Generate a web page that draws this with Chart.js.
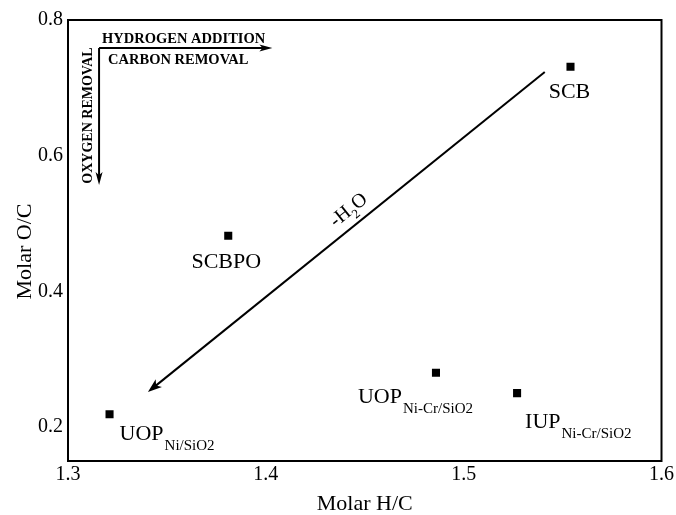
<!DOCTYPE html>
<html><head><meta charset="utf-8">
<script src="https://cdn.jsdelivr.net/npm/chart.js@4/dist/chart.umd.min.js"></script>
<style>html,body{margin:0;padding:0;background:#fff}canvas{display:block}</style>
</head><body>
<canvas id="c" width="676" height="515"></canvas>
<script>
// ---- data ----
const names = ['SCB', 'SCBPO', 'UOP', 'UOP', 'IUP'];
const subs  = ['', '', 'Ni/SiO2', 'Ni-Cr/SiO2', 'Ni-Cr/SiO2'];
const molarHC = [1.554, 1.381, 1.321, 1.486, 1.527];
const molarOC = [0.731, 0.482, 0.219, 0.280, 0.250];
const xTicks = [1.3, 1.4, 1.5, 1.6];
const yTicks = [0.2, 0.4, 0.6, 0.8];
const xTitle = 'Molar H/C';
const yTitle = 'Molar O/C';
// annotation arrows (data coordinates)
const waterArrowFrom = [1.541, 0.7234];
const waterArrowTo   = [1.3404, 0.2517];
const cornerOrigin = [1.3157, 0.7587];
const cornerRightEnd = [1.4033, 0.7587];
const cornerDownEnd  = [1.3157, 0.5568];

// ---- style ----
const FAMILY = "'Liberation Serif', 'Times New Roman', serif";
const labelStyle = [
  {dx: -1, dy: 31, align: 'center'},
  {dx: -2, dy: 32, align: 'center'},
  {dx: 10, dy: 26, align: 'left'},
  {dx: -78, dy: 30, align: 'left'},
  {dx: 8, dy: 35, align: 'left'}
];

function arrow(ctx, x1, y1, x2, y2, len, half, lw) {
  const a = Math.atan2(y2 - y1, x2 - x1);
  const c = Math.cos(a), s = Math.sin(a);
  ctx.save();
  ctx.strokeStyle = '#000'; ctx.fillStyle = '#000'; ctx.lineWidth = lw;
  ctx.beginPath();
  ctx.moveTo(x1, y1);
  ctx.lineTo(x2 - c * len * 0.7, y2 - s * len * 0.7);
  ctx.stroke();
  ctx.beginPath();
  ctx.moveTo(x2, y2);
  ctx.lineTo(x2 - c * len - s * half, y2 - s * len + c * half);
  ctx.lineTo(x2 - c * len * 0.75, y2 - s * len * 0.75);
  ctx.lineTo(x2 - c * len + s * half, y2 - s * len - c * half);
  ctx.closePath();
  ctx.fill();
  ctx.restore();
}

const annot = {
  id: 'annot',
  afterDatasetsDraw(chart) {
    const ctx = chart.ctx, xs = chart.scales.x, ys = chart.scales.y, a = chart.chartArea;
    const px = v => xs.getPixelForValue(v), py = v => ys.getPixelForValue(v);
    ctx.save();
    // frame
    ctx.strokeStyle = '#000'; ctx.lineWidth = 2;
    ctx.strokeRect(a.left, a.top, a.right - a.left, a.bottom - a.top);

    // y axis title
    ctx.save();
    ctx.fillStyle = '#000';
    ctx.translate(25, (a.top + a.bottom) / 2 + 11);
    ctx.rotate(-Math.PI / 2);
    ctx.textAlign = 'center'; ctx.textBaseline = 'middle';
    ctx.font = '22px ' + FAMILY;
    ctx.fillText(yTitle, 0, 0);
    ctx.restore();

    // point labels
    ctx.fillStyle = '#000';
    ctx.textBaseline = 'alphabetic';
    names.forEach((n, i) => {
      const st = labelStyle[i];
      const x = px(molarHC[i]) + st.dx, y = py(molarOC[i]) + st.dy;
      ctx.font = '22px ' + FAMILY;
      const w = ctx.measureText(n).width;
      let sw = 0;
      if (subs[i]) { ctx.font = '15px ' + FAMILY; sw = ctx.measureText(subs[i]).width + 1; }
      let left = st.align === 'center' ? x - (w + sw) / 2 : x;
      ctx.textAlign = 'left';
      ctx.font = '22px ' + FAMILY;
      ctx.fillText(n, left, y);
      if (subs[i]) { ctx.font = '15px ' + FAMILY; ctx.fillText(subs[i], left + w + 1, y + 10); }
    });

    // -H2O arrow
    const x1 = px(waterArrowFrom[0]), y1 = py(waterArrowFrom[1]);
    const x2 = px(waterArrowTo[0]), y2 = py(waterArrowTo[1]);
    arrow(ctx, x1, y1, x2, y2, 14, 5, 2);
    const t = 0.4695;
    const ax = x1 + (x2 - x1) * t, ay = y1 + (y2 - y1) * t;
    ctx.save();
    ctx.translate(ax, ay);
    ctx.rotate(Math.atan2(y1 - y2, x1 - x2));
    ctx.font = '20px ' + FAMILY;
    const w1 = ctx.measureText('-H').width, w3 = ctx.measureText('O').width;
    ctx.font = '13px ' + FAMILY;
    const w2 = ctx.measureText('2').width;
    let sx = -(w1 + w2 + w3) / 2;
    ctx.textAlign = 'left';
    ctx.font = '20px ' + FAMILY; ctx.fillText('-H', sx, -10);
    ctx.font = '13px ' + FAMILY; ctx.fillText('2', sx + w1, -4);
    ctx.font = '20px ' + FAMILY; ctx.fillText('O', sx + w1 + w2, -10);
    ctx.restore();

    // corner arrows
    const ox = px(cornerOrigin[0]), oy = py(cornerOrigin[1]);
    arrow(ctx, ox, oy, px(cornerRightEnd[0]), py(cornerRightEnd[1]), 13, 3.5, 2);
    arrow(ctx, ox, oy, px(cornerDownEnd[0]), py(cornerDownEnd[1]), 13, 3.5, 2);
    ctx.font = 'bold 14.5px ' + FAMILY;
    ctx.textAlign = 'left';
    ctx.fillText('HYDROGEN ADDITION', ox + 3, oy - 5);
    ctx.fillText('CARBON REMOVAL', ox + 9, oy + 16);
    ctx.save();
    const dy = py(cornerDownEnd[1]);
    ctx.translate(ox - 7, (oy + dy) / 2 - 1);
    ctx.rotate(-Math.PI / 2);
    ctx.textAlign = 'center';
    ctx.font = 'bold 14px ' + FAMILY;
    ctx.fillText('OXYGEN REMOVAL', 0, 0);
    ctx.restore();
    ctx.restore();
  }
};

new Chart(document.getElementById('c'), {
  type: 'scatter',
  data: {
    datasets: [{
      data: molarHC.map((x, i) => ({x: x, y: molarOC[i]})),
      pointStyle: 'rect', pointRadius: 5.7, pointHoverRadius: 5.7,
      backgroundColor: '#000', borderWidth: 0
    }]
  },
  options: {
    responsive: false, animation: false, devicePixelRatio: 1,
    layout: {padding: {top: 20, right: 14, left: 0, bottom: 0}},
    plugins: {legend: {display: false}, tooltip: {enabled: false}},
    scales: {
      x: {
        type: 'linear', min: 1.3, max: 1.6,
        grid: {display: false, drawTicks: false}, border: {display: false},
        afterBuildTicks: s => { s.ticks = xTicks.map(v => ({value: v})); },
        afterFit: s => { s.height = 54; },
        ticks: {font: {family: FAMILY, size: 20}, color: '#000', padding: 2, maxRotation: 0,
                callback: v => Number(v).toFixed(1)},
        title: {display: true, text: xTitle, color: '#000',
                font: {family: FAMILY, size: 22, lineHeight: 1}, padding: {top: 0, bottom: 0}}
      },
      y: {
        type: 'linear', min: 0.15, max: 0.8,
        grid: {display: false, drawTicks: false}, border: {display: false},
        afterBuildTicks: s => { s.ticks = yTicks.map(v => ({value: v})); },
        afterFit: s => { s.width = 68; },
        ticks: {font: {family: FAMILY, size: 20}, color: '#000', padding: 5,
                callback: v => Number(v).toFixed(1)},
        title: {display: false}
      }
    }
  },
  plugins: [annot]
});
</script>
</body></html>
